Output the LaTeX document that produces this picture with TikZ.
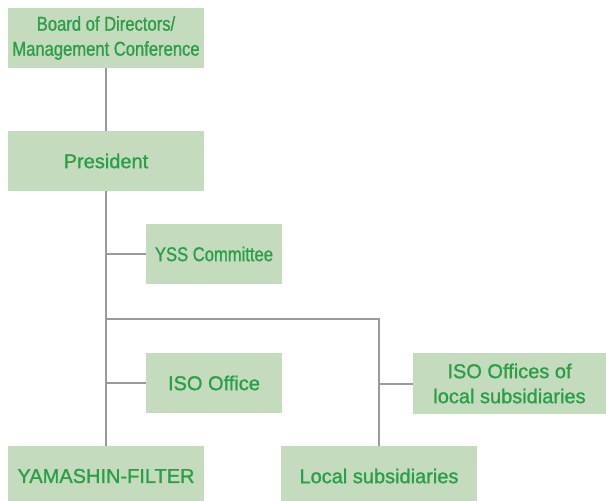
\documentclass[tikz,border=0pt]{standalone}
\usepackage{fontspec}
\setmainfont[FakeBold=1.2]{Liberation Sans}
\newfontfamily\condfont[FakeStretch=0.83,FakeBold=1.0]{Liberation Sans}
\definecolor{boxfill}{HTML}{C5DBBE}
\definecolor{boxtext}{HTML}{2A9E48}
\definecolor{linegray}{HTML}{9A9A9E}
\begin{document}
\begin{tikzpicture}[x=0.75pt,y=-0.75pt,
  orgbox/.style={draw=none,fill=boxfill,text=boxtext,inner sep=0pt,align=center,
    font=\fontsize{15}{18.75}\selectfont},
  condbox/.style={orgbox,font=\condfont\fontsize{15}{18.75}\selectfont},
  link/.style={draw=linegray,line width=1.5pt}]
\useasboundingbox (0,0) rectangle (606,500);
\node[condbox,minimum width=196*0.75pt,minimum height=60*0.75pt] (board) at (106,38) {Board of Directors/\\Management Conference};
\node[orgbox,minimum width=196*0.75pt,minimum height=60*0.75pt] (pres) at (106,161) {President};
\node[condbox,minimum width=136*0.75pt,minimum height=60*0.75pt] (yss) at (214,254) {YSS Committee};
\node[orgbox,minimum width=136*0.75pt,minimum height=60*0.75pt] (iso) at (214,383) {ISO Office};
\node[orgbox,minimum width=196*0.75pt,minimum height=60*0.75pt] (yama) at (106,476) {YAMASHIN-FILTER};
\node[orgbox,minimum width=196*0.75pt,minimum height=60*0.75pt] (local) at (379,476) {Local subsidiaries};
\node[orgbox,minimum width=193*0.75pt,minimum height=61*0.75pt] (isol) at (509.5,383.5) {ISO Offices of\\local subsidiaries};
\coordinate (j1) at (106,319);
\coordinate (j2) at (379,319);
\draw[link] (board.south) -- (pres.north);
\draw[link] (pres.south) -- (yama.north);
\draw[link] (yss.west) -- (yss.west -| pres.south);
\draw[link] (iso.west) -- (iso.west -| pres.south);
\draw[link] (j1) -- (j2) -- (local.north);
\draw[link] (isol.west) -- (isol.west -| j2);
\end{tikzpicture}
\end{document}
